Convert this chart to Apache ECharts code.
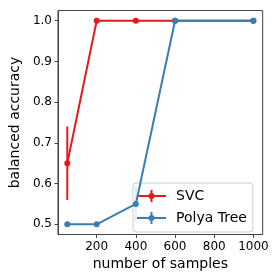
<!DOCTYPE html>
<html><head><meta charset="utf-8">
<script src="https://cdn.jsdelivr.net/npm/echarts@6/dist/echarts.min.js"></script>
<style>html,body{margin:0;padding:0;background:#fff}#c{width:277px;height:277px}</style>
</head><body><div id="c"></div>
<script>
const samples = [50, 200, 400, 600, 1000];
const svcAcc = [0.65, 1.0, 1.0, 1.0, 1.0];
const svcErr = [0.09, 0, 0, 0, 0];
const polyaAcc = [0.5, 0.5, 0.55, 1.0, 1.0];
const polyaErr = [0, 0, 0.045, 0, 0];
const xTicks = [200, 400, 600, 800, 1000];
const yTicks = [0.5, 0.6, 0.7, 0.8, 0.9, 1.0];

const RED = '#e41a1c', BLUE = '#377eb8';
const FONT = 'DejaVu Sans';

function pts(acc){ return samples.map((x,i)=>[x, acc[i]]); }
function errs(acc, err){ return samples.map((x,i)=>[x, acc[i]-err[i], acc[i]+err[i]]).filter((d,i)=>err[i]>0); }
function errSeries(acc, err, color){
  return {
    type:'custom', silent:true, z:3,
    data: errs(acc, err),
    renderItem(params, api){
      const a = api.coord([api.value(0), api.value(1)]);
      const b = api.coord([api.value(0), api.value(2)]);
      return {type:'line', shape:{x1:a[0],y1:a[1],x2:b[0],y2:b[1]}, style:{stroke:color, lineWidth:2}};
    }
  };
}
const iconPath = 'path://M0,5 L29,5 L29,7 L0,7 Z M13.5,0 L15.5,0 L15.5,12 L13.5,12 Z M11.5,6 A3,3 0 1,1 17.5,6 A3,3 0 1,1 11.5,6 Z';

const chart = echarts.init(document.getElementById('c'), null, {renderer:'canvas'});
chart.setOption({
  animation:false,
  backgroundColor:'#fff',
  textStyle:{fontFamily:FONT},
  grid:{left:50, right:14.3, top:10.5, bottom:42.5, show:true, borderColor:'#444', borderWidth:1, backgroundColor:'transparent'},
  xAxis:{
    type:'value', min:2.5, max:1047.5,
    name:'number of samples', nameLocation:'middle', nameGap:19,
    nameTextStyle:{fontFamily:FONT, fontSize:14, color:'#000'},
    axisLine:{show:true, lineStyle:{color:'#444', width:1}},
    axisTick:{show:true, length:3.5, customValues:xTicks, lineStyle:{color:'#444'}},
    axisLabel:{customValues:xTicks, fontFamily:FONT, fontSize:12, color:'#000', margin:6, formatter:v=>String(v)},
    splitLine:{show:false}
  },
  yAxis:{
    type:'value', min:0.475, max:1.025,
    name:'balanced accuracy', nameLocation:'middle', nameGap:31,
    nameTextStyle:{fontFamily:FONT, fontSize:14, color:'#000'},
    axisLine:{show:true, lineStyle:{color:'#444', width:1}},
    axisTick:{show:true, length:3.5, customValues:yTicks, lineStyle:{color:'#444'}},
    axisLabel:{customValues:yTicks, fontFamily:FONT, fontSize:12, color:'#000', margin:6, formatter:v=>v.toFixed(1)},
    splitLine:{show:false}
  },
  legend:{
    orient:'vertical', left:133, top:183,
    data:['SVC','Polya Tree'],
    icon:iconPath, itemWidth:29, itemHeight:12, itemGap:8,
    padding:[6,6,7,4],
    backgroundColor:'rgba(255,255,255,0.85)', borderColor:'#ccc', borderWidth:1, borderRadius:3,
    textStyle:{fontFamily:FONT, fontSize:14, color:'#000', padding:[0,0,0,5]}
  },
  series:[
    {name:'SVC', type:'line', data:pts(svcAcc), color:RED, symbol:'circle', symbolSize:6,
     lineStyle:{width:2, color:RED}, itemStyle:{color:RED}, z:2},
    errSeries(svcAcc, svcErr, RED),
    {name:'Polya Tree', type:'line', data:pts(polyaAcc), color:BLUE, symbol:'circle', symbolSize:6,
     lineStyle:{width:2, color:BLUE}, itemStyle:{color:BLUE}, z:4},
    errSeries(polyaAcc, polyaErr, BLUE)
  ]
});
</script></body></html>
